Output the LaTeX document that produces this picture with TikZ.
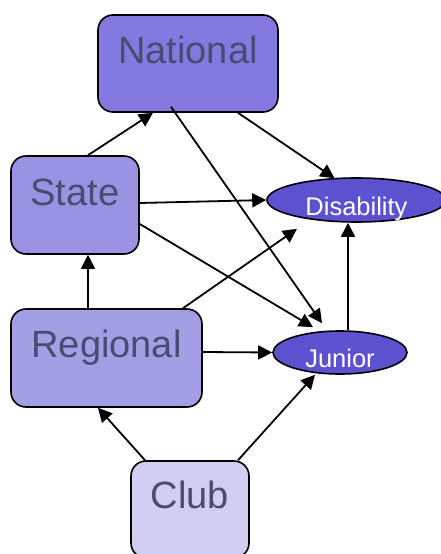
\documentclass[tikz,border=0pt]{standalone}
\usepackage{fontspec}
\setmainfont{Liberation Sans}
\usetikzlibrary{arrows.meta,calc,shapes.geometric}
\definecolor{cNat}{HTML}{8479DE}
\definecolor{cSta}{HTML}{9A93E3}
\definecolor{cReg}{HTML}{A49FE5}
\definecolor{cClub}{HTML}{D1CEF1}
\definecolor{cEll}{HTML}{5C52CF}
\definecolor{cTxt}{HTML}{4B4A73}
\tikzset{
  box/.style={draw=black, line width=1.6pt, rounded corners=15pt, inner sep=0pt,
    text=cTxt, font=\fontsize{38}{40}\selectfont},
  oval/.style={ellipse, draw=black, line width=1.6pt, fill=cEll, inner sep=0pt,
    text=white, font=\fontsize{25.5}{27}\selectfont, text depth=0pt},
  arr/.style={line width=1.8pt, -{Triangle[length=14pt,width=14pt]}}
}
\begin{document}
\begin{tikzpicture}[x=1pt,y=-1pt]
\useasboundingbox (0,0) rectangle (440,554);
\node[box, fill=cNat, minimum width=180pt, text height=48pt, text depth=49pt] (N) at (188,63.5) {National};
\node[box, fill=cSta, minimum width=128pt, text height=49pt, text depth=49pt] (S) at (75,205) {State};
\node[box, fill=cReg, minimum width=191pt, text height=48pt, text depth=50pt] (R) at (106.5,358) {Regional};
\node[box, fill=cClub, minimum width=118pt, text height=47pt, text depth=50pt] (C) at (190,509.5) {Club};
\node[oval, minimum width=179pt, minimum height=44pt, text height=30pt] (D) at (356.5,200) {Disability};
\node[oval, minimum width=134pt, minimum height=43pt, text height=29pt] (J) at (340,352.5) {Junior};
\draw[arr] ($(S.north)+(13,0)$) -- ($(N.south)+(-35,0)$);
\draw[arr] ($(N.south)+(50,0)$) -- ($(D.north)+(-22,1)$);
\draw[arr] ($(N.south)+(-17,-6)$) -- ($(J.north)+(-18,-7)$);
\draw[arr] ($(S.east)+(0,-2)$) -- (D.west);
\draw[arr] ($(S.east)+(0,19)$) -- ($(J.north)+(-27,-3)$);
\draw[arr] ($(R.north)+(-18.5,0)$) -- ($(S.south)+(13,0)$);
\draw[arr] ($(R.north)+(76.5,0)$) -- ($(D.south)+(-59.5,6)$);
\draw[arr] ($(R.east)+(0,-6)$) -- (J.west);
\draw[arr] ($(J.north)+(8,0)$) -- ($(D.south)+(-8.5,0)$);
\draw[arr] ($(C.north)+(-45,0)$) -- ($(R.south)+(-8.5,0)$);
\draw[arr] ($(C.north)+(48,0)$) -- ($(J.south)+(-25,0)$);
\end{tikzpicture}
\end{document}
